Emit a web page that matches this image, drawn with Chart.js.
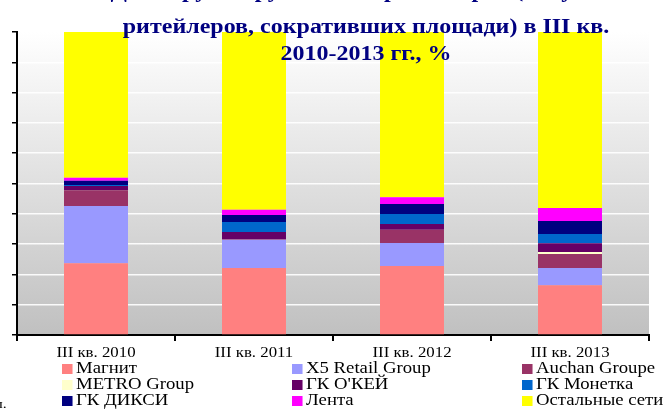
<!DOCTYPE html>
<html>
<head>
<meta charset="utf-8">
<script src="https://cdn.jsdelivr.net/npm/chart.js@4"></script>
<style>
  body { margin: 0; background: #fff; }
  .wrap { position: relative; width: 667px; height: 414px; overflow: hidden; }
  .title {
    position: absolute; left: 66px; width: 600px; top: -14px;
    text-align: center; font: bold 20px "Liberation Serif", serif;
    line-height: 27px; color: #000080; pointer-events: none;
    transform: scaleX(1.2); transform-origin: 50% 0;
  }
  .title .l1 { margin-top: -9px; height: 36px; }
  .legend {
    position: absolute; top: 360px; left: 62px;
    font: 16px "Liberation Serif", serif; line-height: 16px; color: #000;
  }
  .legend .item { position: absolute; white-space: nowrap; transform: scaleX(1.17); transform-origin: 0 0; }
  .legend .sw { display: inline-block; width: 9px; height: 10px; margin-right: 3px; vertical-align: -1px; }
  .note { position: absolute; left: -4px; top: 396px; font: 13px "Liberation Serif", serif; transform: scaleX(1.2); }
</style>
</head>
<body>
<div class="wrap">
  <canvas id="myChart" width="667" height="414"></canvas>
  <div class="title"><div class="l1">Доля групп крупнейших ритейлеров (без учета</div><div>ритейлеров, сокративших площади) в III кв.</div><div>2010-2013 гг., %</div></div>
  <div class="legend" id="legend"></div>
  <div class="note">л.</div>
</div>
<script>
const categories = ["III кв. 2010", "III кв. 2011", "III кв. 2012", "III кв. 2013"];
const seriesNames = ["Магнит", "X5 Retail Group", "Auchan Groupe", "METRO Group", "ГК О'КЕЙ", "ГК Монетка", "ГК ДИКСИ", "Лента", "Остальные сети"];
const magnit = [23.7, 22.1, 22.8, 16.4];
const x5 = [18.9, 9.3, 7.6, 5.7];
const auchan = [5.2, 0.3, 4.3, 4.6];
const metro = [0, 0, 0, 0.7];
const okey = [1.4, 2.3, 1.9, 2.9];
const monetka = [0.3, 3.3, 3.3, 3.0];
const dixy = [1.4, 2.3, 3.3, 4.3];
const lenta = [1.0, 1.7, 2.3, 4.3];
const others = [48.1, 58.7, 54.5, 58.1];
const yTicks = [0, 10, 20, 30, 40, 50, 60, 70, 80, 90, 100];

const colors = ["#ff8080", "#9999ff", "#993366", "#ffffcc", "#660066", "#0066cc", "#000080", "#ff00ff", "#ffff00"];
const values = [magnit, x5, auchan, metro, okey, monetka, dixy, lenta, others];

const bgPlugin = {
  id: "bg",
  beforeDraw(chart) {
    const { ctx, chartArea: a } = chart;
    const g = ctx.createLinearGradient(0, a.top, 0, a.bottom);
    g.addColorStop(0, "#ffffff");
    g.addColorStop(1, "#c0c0c0");
    ctx.save();
    ctx.fillStyle = g;
    ctx.fillRect(a.left, a.top, a.right - a.left, a.bottom - a.top);
    ctx.restore();
  },
};

// category labels, drawn a bit wider like the original picture
const xLabels = {
  id: "xLabels",
  afterDraw(chart) {
    const { ctx, scales } = chart;
    const x = scales.x;
    ctx.save();
    ctx.font = '14px "Liberation Serif"';
    ctx.fillStyle = "#000";
    ctx.textAlign = "center";
    ctx.textBaseline = "alphabetic";
    categories.forEach((c, i) => {
      const px = x.getPixelForValue(i);
      ctx.save();
      ctx.translate(px, x.top + 22);
      ctx.scale(1.2, 1);
      ctx.fillText(c, 0, 0);
      ctx.restore();
    });
    ctx.restore();
  },
};

const ctx = document.getElementById("myChart").getContext("2d");
const myChart = new Chart(ctx, {
  type: "bar",
  data: {
    labels: categories,
    datasets: values.map((v, i) => ({
      label: seriesNames[i],
      data: v,
      backgroundColor: colors[i],
      borderWidth: 0,
      categoryPercentage: 1,
      barPercentage: 0.405,
    })),
  },
  options: {
    responsive: false,
    animation: false,
    layout: { padding: { top: 32, right: 18, left: 0, bottom: 0 } },
    plugins: { legend: { display: false }, title: { display: false }, tooltip: { enabled: false } },
    scales: {
      x: {
        stacked: true,
        afterFit: (s) => { s.height = 79; },
        border: { color: "#000", width: 2 },
        grid: { offset: true, drawOnChartArea: false, tickLength: 6, tickColor: "#000", lineWidth: 2 },
        ticks: { display: false },
      },
      y: {
        stacked: true,
        min: 0,
        max: 100,
        afterFit: (s) => { s.width = 17; },
        afterBuildTicks: (s) => { s.ticks = yTicks.map((v) => ({ value: v })); },
        border: { color: "#000", width: 2 },
        grid: { color: "rgba(255,255,255,0.9)", lineWidth: 1.5, tickLength: 5, tickColor: "#000" },
        ticks: { display: false },
      },
    },
  },
  plugins: [bgPlugin, xLabels],
});

const legend = document.getElementById("legend");
seriesNames.forEach((name, i) => {
  const col = i % 3, row = Math.floor(i / 3);
  const el = document.createElement("div");
  el.className = "item";
  el.style.left = [0, 230, 460][col] + "px";
  el.style.top = row * 16 + "px";
  el.innerHTML = '<span class="sw" style="background:' + colors[i] + '"></span>' + name;
  legend.appendChild(el);
});
</script>
</body>
</html>
